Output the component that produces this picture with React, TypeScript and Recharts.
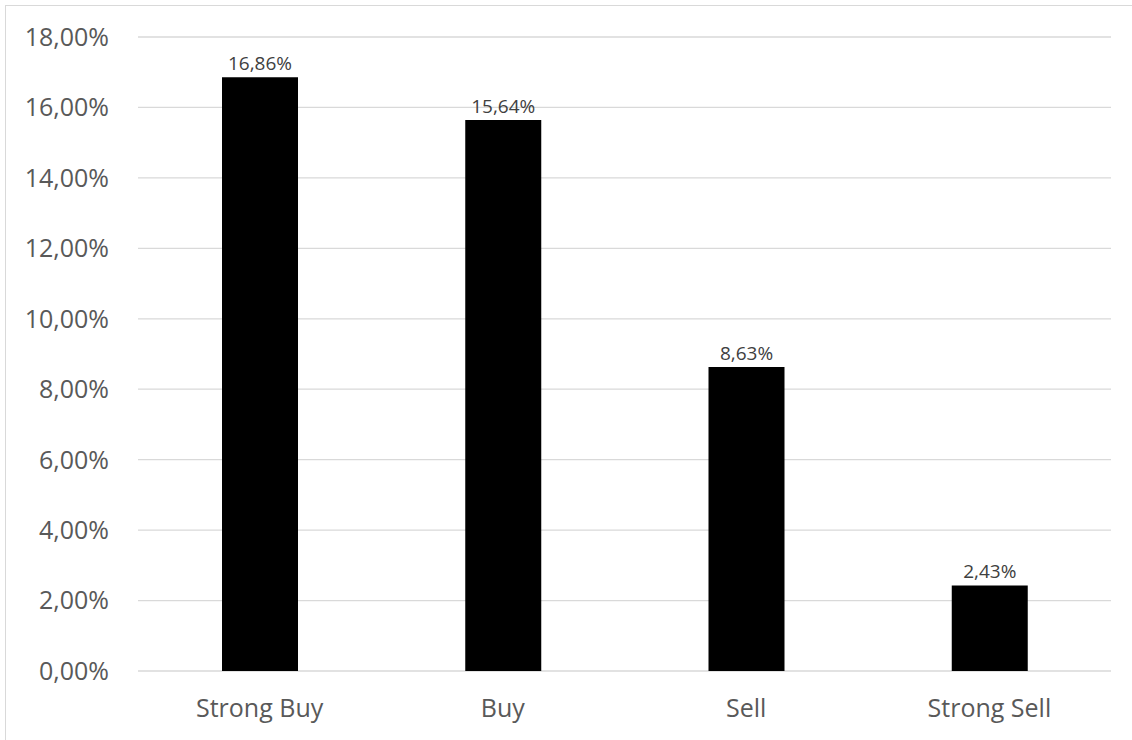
import React from "react";
import { Bar, BarChart, CartesianGrid, LabelList, XAxis, YAxis } from "recharts";

const categories = ["Strong Buy", "Buy", "Sell", "Strong Sell"];
const shares = [0.1686, 0.1564, 0.0863, 0.0243];
const yTicks = [0, 0.02, 0.04, 0.06, 0.08, 0.1, 0.12, 0.14, 0.16, 0.18];

const data = categories.map((name, i) => ({ name, share: shares[i] }));

const pct = (v: number) => (v * 100).toFixed(2).replace(".", ",") + "%";

function App() {
  return (
    <div style={{ position: "absolute", left: 0, top: 0, width: 1132, height: 740, background: "#fff", overflow: "hidden" }}>
      <div
        style={{
          position: "absolute",
          left: 5,
          top: 5,
          width: 1200,
          height: 800,
          borderLeft: "1.5px solid #d9d9d9",
          borderTop: "1.5px solid #d9d9d9",
        }}
      />
      <BarChart
        width={1132}
        height={740}
        data={data}
        margin={{ top: 37, right: 21, bottom: 0, left: 0 }}
        style={{ position: "absolute", left: 0, top: 0, fontFamily: "'Open Sans', sans-serif" }}
      >
        <CartesianGrid vertical={false} stroke="#d9d9d9" strokeWidth={1.3} />
        <XAxis
          dataKey="name"
          height={69}
          axisLine={false}
          tickLine={false}
          tickSize={0}
          tickMargin={28}
          tick={{ fontSize: 25, fill: "#595959" }}
        />
        <YAxis
          width={138}
          domain={[0, 0.18]}
          ticks={yTicks}
          tickFormatter={pct}
          axisLine={false}
          tickLine={false}
          tickSize={0}
          tickMargin={29}
          tick={{ fontSize: 25, fill: "#595959" }}
        />
        <Bar dataKey="share" fill="#000000" barSize={76} isAnimationActive={false}>
          <LabelList dataKey="share" position="top" offset={7} formatter={(v: any) => pct(Number(v))} style={{ fontSize: 19, fill: "#404040" }} />
        </Bar>
      </BarChart>
    </div>
  );
}

export default App;
